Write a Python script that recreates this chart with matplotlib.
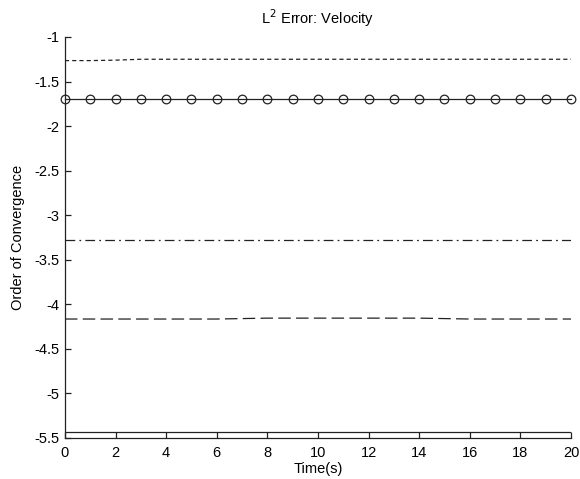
import numpy as np
import matplotlib
matplotlib.use("Agg")
from matplotlib import pyplot as plt

# time steps
t = np.arange(0, 21)

# order of convergence curves
dotted_vals = [-1.265, -1.265, -1.26, -1.25, -1.25, -1.25, -1.25, -1.25, -1.25, -1.25, -1.25,
               -1.25, -1.25, -1.25, -1.25, -1.25, -1.25, -1.25, -1.25, -1.25, -1.25]
circle_vals = [-1.70] * 21
dashdot_vals = [-3.28] * 21
dashed_vals = [-4.165, -4.165, -4.165, -4.165, -4.165, -4.165, -4.165, -4.16, -4.155, -4.155, -4.155,
               -4.155, -4.155, -4.155, -4.155, -4.16, -4.165, -4.165, -4.165, -4.165, -4.165]
bottom_vals = [-5.43] * 21

plt.rcParams['font.family'] = ['Liberation Sans', 'DejaVu Sans']
plt.rcParams['lines.scale_dashes'] = False

fig = plt.figure(figsize=(5.8, 4.79), dpi=100)
ax = fig.add_axes([0.112, 0.0856, 0.8725, 0.8372])

col = '#222222'
fs = 10.5
ax.plot(t, dotted_vals, color=col, lw=0.9, linestyle=(0, (3, 2.2)))
ax.plot(t, circle_vals, color=col, lw=0.9, marker='o', markersize=6.2,
        markerfacecolor='none', markeredgecolor=col, markeredgewidth=0.9, clip_on=False, zorder=5)
ax.plot(t, dashdot_vals, color=col, lw=0.9, linestyle=(0, (7, 3, 1.3, 3)))
ax.plot(t, dashed_vals, color=col, lw=0.9, linestyle=(0, (9, 3.8)))
ax.plot(t, bottom_vals, color=col, lw=0.9)

ax.set_xlim(0, 20)
ax.set_ylim(-5.5, -1)
ax.set_xticks(np.arange(0, 21, 2))
ax.set_yticks(np.arange(-5.5, -0.99, 0.5))
ax.set_yticklabels(['-5.5', '-5', '-4.5', '-4', '-3.5', '-3', '-2.5', '-2', '-1.5', '-1'])

ax.spines['top'].set_visible(False)
ax.spines['right'].set_visible(False)
for s in ['left', 'bottom']:
    ax.spines[s].set_color(col)
    ax.spines[s].set_linewidth(0.9)
ax.tick_params(direction='in', length=4, width=0.9, colors=col, labelsize=fs, labelcolor='black')
ax.tick_params(axis='x', pad=6)
ax.tick_params(axis='y', pad=4)

ax.set_xlabel('Time(s)', fontsize=fs, labelpad=1)
ax.set_ylabel('Order of Convergence', fontsize=fs, labelpad=7)
ax.set_title('L$^2$ Error: Velocity', fontsize=fs, pad=9)

fig.savefig('out.png', dpi=100)
